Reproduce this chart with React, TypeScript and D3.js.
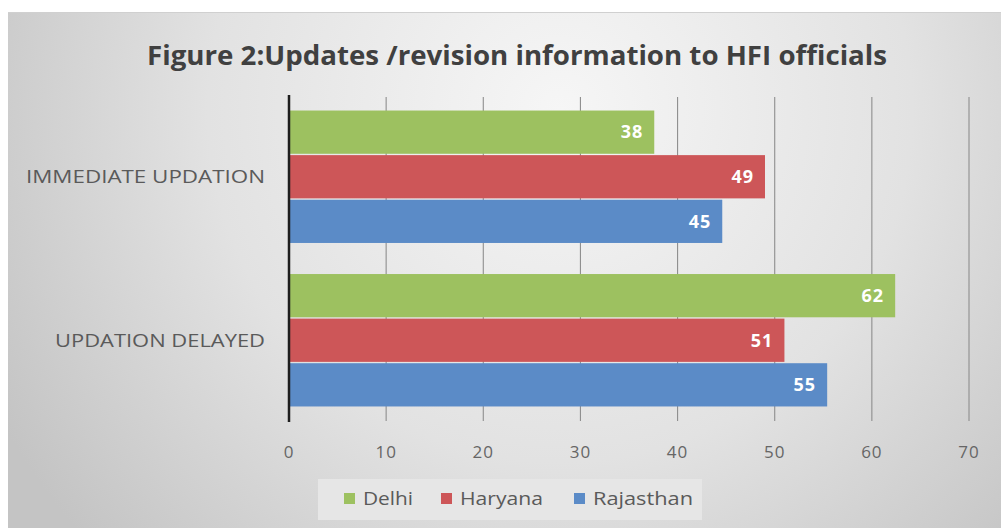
import React, { useEffect, useRef } from 'react';
import * as d3 from 'd3';

// Chart data
const categories = ['IMMEDIATE UPDATION', 'UPDATION DELAYED'];
const states = ['Delhi', 'Haryana', 'Rajasthan'];
const delhi = [37.6, 62.4];
const haryana = [49, 51];
const rajasthan = [44.6, 55.4];
const xTicks = [0, 10, 20, 30, 40, 50, 60, 70];
const colors = ['#9dc160', '#cd5658', '#5b8bc7'];

const App = () => {
  const svgRef = useRef<SVGSVGElement>(null);

  useEffect(() => {
    const width = 1001;
    const height = 528;
    const svg = d3.select(svgRef.current);
    svg.selectAll('*').remove();
    svg.attr('width', width).attr('height', height);

    const font = "'Open Sans', 'DejaVu Sans', sans-serif";

    // background gradient
    const defs = svg.append('defs');
    const grad = defs.append('radialGradient')
      .attr('id', 'bg')
      .attr('gradientUnits', 'userSpaceOnUse')
      .attr('cx', 560).attr('cy', 110).attr('r', 640);
    grad.append('stop').attr('offset', '0%').attr('stop-color', '#f6f6f6');
    grad.append('stop').attr('offset', '55%').attr('stop-color', '#e2e2e2');
    grad.append('stop').attr('offset', '100%').attr('stop-color', '#c4c4c4');

    svg.append('rect').attr('width', width).attr('height', height).attr('fill', '#ffffff');
    svg.append('rect')
      .attr('x', 8).attr('y', 12)
      .attr('width', width - 8).attr('height', height - 12)
      .attr('fill', 'url(#bg)');
    svg.append('line')
      .attr('x1', 8).attr('x2', width).attr('y1', 12.5).attr('y2', 12.5)
      .attr('stroke', '#d0d0d0');

    // title
    svg.append('text')
      .attr('x', 517).attr('y', 65)
      .attr('text-anchor', 'middle')
      .attr('textLength', 740)
      .attr('lengthAdjust', 'spacingAndGlyphs')
      .style('font-family', font)
      .style('font-weight', 'bold')
      .style('font-size', '26px')
      .style('fill', '#404040')
      .text('Figure 2:Updates /revision information to HFI officials');

    // scales
    const x = d3.scaleLinear().domain([0, 70]).range([289, 969]);
    const y = d3.scaleBand<string>()
      .domain(categories)
      .range([95, 422])
      .paddingInner(0.19)
      .paddingOuter(0.095);
    const ySub = d3.scaleBand<string>()
      .domain(states)
      .range([0, y.bandwidth()])
      .paddingInner(0.03);

    const series = [delhi, haryana, rajasthan];

    // gridlines
    svg.append('g').selectAll('line')
      .data(xTicks.slice(1))
      .enter().append('line')
      .attr('x1', d => x(d)).attr('x2', d => x(d))
      .attr('y1', 97).attr('y2', 421)
      .attr('stroke', '#8e8e8e')
      .attr('stroke-width', 1.1);

    // tick labels
    svg.append('g').selectAll('text')
      .data(xTicks)
      .enter().append('text')
      .attr('x', d => x(d))
      .attr('y', 452)
      .attr('dy', '0.35em')
      .attr('text-anchor', 'middle')
      .style('font-family', font)
      .style('font-size', '17px')
      .style('letter-spacing', '1px')
      .style('fill', '#666666')
      .text(d => d);

    // bars
    const groups = svg.append('g').selectAll('g')
      .data(categories)
      .enter().append('g')
      .attr('transform', d => `translate(0,${y(d)})`);

    groups.each(function (cat, ci) {
      const g = d3.select(this);
      states.forEach((s, si) => {
        const v = series[si][ci];
        g.append('rect')
          .attr('x', x(0))
          .attr('y', ySub(s)!)
          .attr('width', x(v) - x(0))
          .attr('height', ySub.bandwidth())
          .attr('fill', colors[si]);
        g.append('text')
          .attr('x', x(v) - 11)
          .attr('y', ySub(s)! + ySub.bandwidth() / 2)
          .attr('dy', '0.35em')
          .attr('text-anchor', 'end')
          .style('font-family', font)
          .style('font-weight', 'bold')
          .style('font-size', '18px')
          .style('letter-spacing', '1px')
          .style('fill', '#ffffff')
          .text(Math.round(v));
      });
    });

    // category labels
    const labelWidths = [239, 210];
    svg.append('g').selectAll('text')
      .data(categories)
      .enter().append('text')
      .attr('x', 265)
      .attr('y', d => y(d)! + y.bandwidth() / 2)
      .attr('dy', '0.35em')
      .attr('text-anchor', 'end')
      .attr('textLength', (d, i) => labelWidths[i])
      .attr('lengthAdjust', 'spacingAndGlyphs')
      .style('font-family', font)
      .style('font-size', '18px')
      .style('fill', '#5a5a5a')
      .text(d => d);

    // y axis line
    svg.append('line')
      .attr('x1', x(0)).attr('x2', x(0))
      .attr('y1', 95).attr('y2', 422)
      .attr('stroke', '#1e1e1e')
      .attr('stroke-width', 2.5);

    // legend
    const legend = svg.append('g');
    legend.append('rect')
      .attr('x', 318).attr('y', 479)
      .attr('width', 384).attr('height', 41)
      .attr('fill', '#e6e6e6');
    const legendX = [344, 441, 574];
    const legendW = [50, 83, 100];
    states.forEach((s, i) => {
      legend.append('rect')
        .attr('x', legendX[i]).attr('y', 493)
        .attr('width', 11).attr('height', 11)
        .attr('fill', colors[i]);
      legend.append('text')
        .attr('x', legendX[i] + 19)
        .attr('y', 499)
        .attr('dy', '0.35em')
        .attr('textLength', legendW[i])
        .attr('lengthAdjust', 'spacingAndGlyphs')
        .style('font-family', font)
        .style('font-size', '18px')
        .style('fill', '#5a5a5a')
        .text(s);
    });
  }, []);

  return (
    <div style={{ position: 'absolute', left: 0, top: 0 }}>
      <svg ref={svgRef} style={{ display: 'block' }}></svg>
    </div>
  );
};

export default App;
